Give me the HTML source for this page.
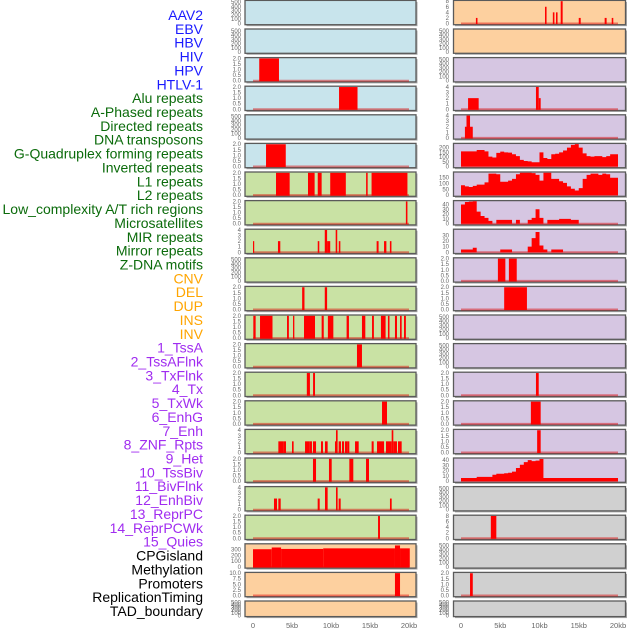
<!DOCTYPE html>
<html><head><meta charset="utf-8"><style>
html,body{margin:0;padding:0;background:#fff;}
svg{display:block;font-family:"Liberation Sans",sans-serif;}
</style></head><body>
<svg id="chart" width="630" height="630" viewBox="0 0 630 630" xmlns="http://www.w3.org/2000/svg"></svg>
<script>
const labels = ["AAV2","EBV","HBV","HIV","HPV","HTLV-1","Alu repeats","A-Phased repeats","Directed repeats","DNA transposons","G-Quadruplex forming repeats","Inverted repeats","L1 repeats","L2 repeats","Low_complexity A/T rich regions","Microsatellites","MIR repeats","Mirror repeats","Z-DNA motifs","CNV","DEL","DUP","INS","INV","1_TssA","2_TssAFlnk","3_TxFlnk","4_Tx","5_TxWk","6_EnhG","7_Enh","8_ZNF_Rpts","9_Het","10_TssBiv","11_BivFlnk","12_EnhBiv","13_ReprPC","14_ReprPCWk","15_Quies","CPGisland","Methylation","Promoters","ReplicationTiming","TAD_boundary"];
const labelGroups = [0,0,0,0,0,0,1,1,1,1,1,1,1,1,1,1,1,1,1,2,2,2,2,2,3,3,3,3,3,3,3,3,3,3,3,3,3,3,3,4,4,4,4,4];
const xTicks = [0,5,10,15,20];
const xTickLabels = ["0","5kb","10kb","15kb","20kb"];

// bar series: [startKb, endKb, value]
const barsL2 = [[0.8,3.33,2]];
const barsL3 = [[11.03,13.4,2]];
const barsL5 = [[1.67,4.2,2]];
const barsL6 = [[2.95,4.7,2],[7.05,7.9,2],[8.3,8.8,2],[9.9,11.9,2],[14.5,14.7,2],[15.2,19.8,2]];
const barsL7 = [[19.6,19.8,2]];
const barsL8 = [[0,0.12,2],[3.2,3.5,2],[8.3,8.5,2],[9.2,9.5,4],[9.5,9.9,2],[10.6,10.8,4],[11.0,11.2,2],[15.85,16.1,2],[16.8,17.1,2],[17.55,17.75,2]];
const barsL10 = [[6.3,6.6,2],[9.2,9.5,2]];
const barsL11 = [[0.04,0.34,2],[0.9,2.5,2],[4.36,4.6,2],[5.13,5.3,2],[6.54,7.95,2],[8.8,9.07,2],[9.6,10.3,2],[12.0,12.3,2],[13.97,14.4,2],[15.26,15.5,2],[16.4,17.0,2],[17.3,17.5,2],[18.2,18.46,2],[18.85,19.06,2],[19.36,19.6,2]];
const barsL12 = [[13.33,13.97,2]];
const barsL13 = [[6.9,7.3,2],[7.7,7.95,2]];
const barsL14 = [[16.54,17.18,2]];
const barsL15 = [[3.25,3.89,2],[3.89,4.23,2],[5.0,5.21,2],[6.67,7.22,2],[7.22,7.56,2],[7.69,8.08,2],[8.72,8.97,2],[9.23,9.57,2],[10.51,10.64,2],[10.64,10.85,4],[10.98,11.28,2],[11.41,11.67,2],[11.79,12.09,2],[12.09,12.35,2],[13.08,13.55,2],[15.21,15.47,2],[15.9,16.8,2],[17.05,17.78,2],[17.78,17.99,4],[17.99,18.46,2],[18.59,19.06,2]];
const barsL16 = [[7.69,8.08,2],[9.74,10.09,2],[12.35,12.86,2],[14.49,14.87,2]];
const barsL17 = [[2.69,3.08,2],[3.25,3.55,2],[8.29,8.55,2],[9.23,9.57,4],[10.64,10.85,4],[10.98,11.24,2],[17.56,17.78,2]];
const barsL18 = [[16.03,16.28,2]];
const barsL19 = [[0,2.4,305],[2.4,3.6,335],[3.6,9.0,310],[9.0,18.2,320],[18.2,18.85,370],[18.85,20.1,320]];
const barsL20 = [[18.2,18.85,10]];
const barsR0 = [[1.9,2.1,2],[10.7,10.9,6],[11.7,11.9,4],[12.1,12.3,4],[12.7,12.95,8],[15.0,15.25,2],[18.3,18.55,2],[19.2,19.4,2]];
const barsR3 = [[0.9,2.25,2],[9.55,9.9,4],[9.9,10.15,2]];
const barsR4 = [[0.5,0.7,2],[0.7,1.15,4],[1.15,1.5,2]];
const barsR9 = [[4.7,5.65,2],[6.1,7.1,2]];
const barsR10 = [[5.5,8.4,2]];
const barsR13 = [[9.55,9.9,2]];
const barsR14 = [[8.9,10.15,2]];
const barsR15 = [[9.7,10.15,2]];
const barsR18 = [[3.8,4.5,8]];
const barsR20 = [[1.15,1.5,2]];

// area series: 40 bins of 0.5 kb
const areaR5 = [160,160,160,160,175,175,160,105,95,145,158,150,148,130,110,70,58,55,45,45,150,90,80,130,135,150,170,200,230,240,200,140,110,105,110,110,100,110,130,130];
const areaR6 = [85,75,70,80,90,90,110,185,185,180,115,115,125,140,180,195,195,195,190,175,125,195,195,140,140,120,105,75,55,40,60,140,175,185,185,175,185,180,150,150];
const areaR7 = [40,45,46,48,25,16,12,6,0,8,8,8,8,0,8,0,0,8,12,30,12,0,8,8,8,10,10,10,8,8,0,0,0,0,0,0,0,0,0,0];
const areaR8 = [5,5,5,8,0,0,0,0,0,0,5,5,5,0,0,0,0,10,25,36,12,5,0,5,5,5,0,0,0,0,0,0,0,0,0,0,0,0,0,0];
const areaR16 = [6,6,6,6,8,8,8,8,12,14,14,15,16,18,25,31,36,40,38,39,42,6,6,6,6,6,6,6,6,6,6,6,6,6,6,6,6,6,6,6];

const BG = {blue:"#c8e4ec",green:"#c9e2a4",orange:"#fdd09f",purple:"#d6c6e2",grey:"#d0d0d0"};
function P(bg,ymax,tstep,tmax,dec,bars,area){return {bg,ymax,tstep,tmax,dec,bars,area};}
const E = (bg)=>P(bg,530,100,500,0,null,null);
const leftPanels = [E("blue"),E("blue"),P("blue",2.03,0.5,2,1,barsL2),P("blue",2.03,0.5,2,1,barsL3),E("blue"),P("blue",2.03,0.5,2,1,barsL5),
 P("green",2.03,0.5,2,1,barsL6),P("green",2.03,0.5,2,1,barsL7),P("green",4.05,1,4,0,barsL8),E("green"),P("green",2.03,0.5,2,1,barsL10),
 P("green",2.03,0.5,2,1,barsL11),P("green",2.03,0.5,2,1,barsL12),P("green",2.03,0.5,2,1,barsL13),P("green",2.03,0.5,2,1,barsL14),
 P("green",4.05,1,4,0,barsL15),P("green",2.03,0.5,2,1,barsL16),P("green",4.05,1,4,0,barsL17),P("green",2.03,0.5,2,1,barsL18),
 P("orange",390,100,300,0,barsL19),P("orange",10.1,2.5,10,1,barsL20),E("orange")];
const rightPanels = [P("orange",8.1,2,8,0,barsR0),E("orange"),E("purple"),P("purple",4.05,1,4,0,barsR3),P("purple",4.05,1,4,0,barsR4),
 P("purple",240,50,200,0,null,areaR5),P("purple",195,50,150,0,null,areaR6),P("purple",47,10,40,0,null,areaR7),P("purple",40,10,30,0,null,areaR8),
 P("purple",2.03,0.5,2,1,barsR9),P("purple",2.03,0.5,2,1,barsR10),E("purple"),E("purple"),P("purple",2.03,0.5,2,1,barsR13),
 P("purple",2.03,0.5,2,1,barsR14),P("purple",2.03,0.5,2,1,barsR15),P("purple",43,10,40,0,null,areaR16),E("grey"),
 P("grey",8.1,2,8,0,barsR18),E("grey"),P("grey",2.03,0.5,2,1,barsR20),E("grey")];

const NS="http://www.w3.org/2000/svg";
const svg=document.getElementById("chart");
function mk(tag,attrs,parent){const e=document.createElementNS(NS,tag);for(const k in attrs)e.setAttribute(k,attrs[k]);(parent||svg).appendChild(e);return e;}

const labelColors=["#1a1aff","#0b6b0b","#ffa500","#a02cf0","#000000"];
labels.forEach((t,i)=>{
  const e=mk("text",{x:203,y:15+i*13.86+5,"text-anchor":"end","font-size":"14",fill:labelColors[labelGroups[i]]});
  e.textContent=t;
  
  
});

function drawColumn(panels,fx0,fx1,dx0,dx1,tickX,col){
  const xs=kb=>dx0+(kb/20)*(dx1-dx0);
  panels.forEach((p,r)=>{
    const top=0.4+28.6*r, h=(r===21)?15.6:24.3, bot=top+h;
    const g=mk("g",{});
    
    
    mk("rect",{x:fx0+1.5,y:top+1.5,width:fx1-fx0,height:h,fill:"#aaa"},g);
    mk("rect",{x:fx0,y:top,width:fx1-fx0,height:h,fill:BG[p.bg],stroke:"#5a5a5a","stroke-width":1.3},g);
    const y0=bot-1.2, yTop=top+0.5;
    const ys=v=>y0-(v/p.ymax)*(y0-yTop);
    for(let v=0; v<=p.tmax+1e-9; v+=p.tstep){
      const t=mk("text",{x:tickX,y:ys(v)+2,"text-anchor":"end","font-size":"6",fill:"#666"},g);
      t.textContent=p.dec?v.toFixed(1):String(Math.round(v));
      
      
    }
    if(p.bars||p.area){
      const bl=mk("line",{x1:xs(0),x2:xs(20),y1:y0,y2:y0,stroke:"rgba(220,0,0,0.45)","stroke-width":2},g);
      
      
    }
    if(p.bars){
      p.bars.forEach(b=>{
        const yv=Math.max(ys(b[2]),top+0.7);
        const rc=mk("rect",{x:xs(b[0]),y:yv,width:Math.max(xs(b[1])-xs(b[0]),1.2),height:y0-yv+0.5,fill:"#ff0000"},g);
        
        
      });
    }
    if(p.area){
      let d="M"+xs(0)+","+y0;
      p.area.forEach((v,i)=>{const yv=Math.max(ys(v),top+0.7);d+=" L"+xs(i*0.5)+","+yv+" L"+xs(i*0.5+0.5)+","+yv;});
      d+=" L"+xs(20)+","+y0+" Z";
      const pa=mk("path",{d:d,fill:"#ff0000"},g);
      
      
    }
  });
  xTicks.forEach((k,i)=>{
    const t=mk("text",{x:xs(k),y:628,"text-anchor":"middle","font-size":"7.5",fill:"#666"});
    t.textContent=xTickLabels[i];
    
    
  });
}
drawColumn(leftPanels,245,416,253,409,241,"left");
drawColumn(rightPanels,453.5,625.5,461,618,449,"right");
</script>
</body></html>
